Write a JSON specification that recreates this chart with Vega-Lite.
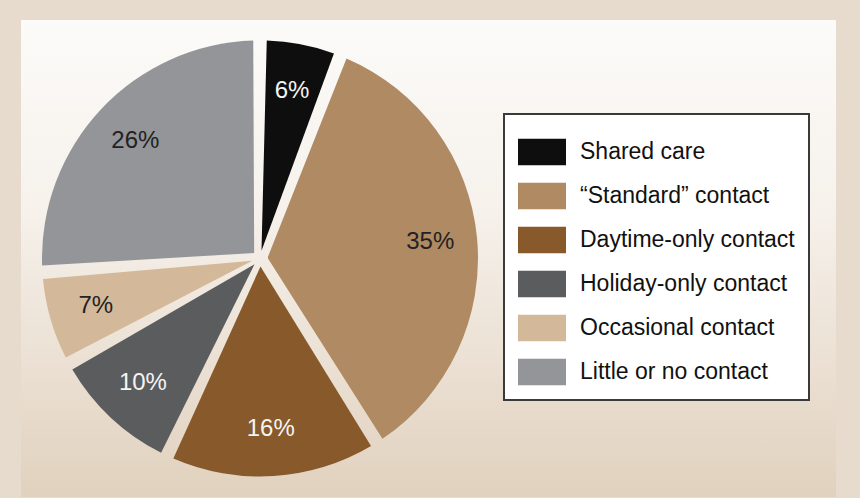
{
  "$schema": "https://vega.github.io/schema/vega-lite/v6.json",
  "width": 860,
  "height": 498,
  "autosize": {"type": "fit", "contains": "padding"},
  "padding": {"left": 21, "top": 20, "right": 24, "bottom": 1},
  "background": "#e6dbcd",
  "config": {
    "view": {"stroke": null},
    "legend": {"strokeWidth": 2}
  },
  "data": {
    "values": [
      {"rank": 1, "category": "Shared care", "share": 0.06},
      {"rank": 2, "category": "“Standard” contact", "share": 0.35},
      {"rank": 3, "category": "Daytime-only contact", "share": 0.16},
      {"rank": 4, "category": "Holiday-only contact", "share": 0.10},
      {"rank": 5, "category": "Occasional contact", "share": 0.07},
      {"rank": 6, "category": "Little or no contact", "share": 0.26}
    ]
  },
  "layer": [
    {
      "data": {"values": [{"panel": "background"}]},
      "mark": {
        "type": "rect",
        "fill": {
          "gradient": "linear",
          "x1": 0, "y1": 0, "x2": 0, "y2": 1,
          "stops": [
            {"offset": 0, "color": "#fcfbf9"},
            {"offset": 0.4, "color": "#f6f1eb"},
            {"offset": 1, "color": "#e1d1be"}
          ]
        }
      },
      "encoding": {
        "x": {"value": 0},
        "x2": {"value": "width"},
        "y": {"value": 0},
        "y2": {"value": "height"}
      }
    },
    {
      "mark": {"type": "arc", "outerRadius": 218, "innerRadius": 8, "padAngle": 0.062, "xOffset": -168.5},
      "encoding": {
        "theta": {"field": "share", "type": "quantitative", "stack": true},
        "order": {"field": "rank", "type": "quantitative"},
        "color": {
          "field": "category",
          "type": "nominal",
          "scale": {
            "domain": ["Shared care", "“Standard” contact", "Daytime-only contact", "Holiday-only contact", "Occasional contact", "Little or no contact"],
            "range": ["#0e0e0e", "#b08a63", "#87592b", "#5a5c5e", "#d3b999", "#939598"]
          },
          "legend": {
            "title": null,
            "orient": "none",
            "legendX": 483,
            "legendY": 94,
            "padding": 14,
            "strokeColor": "#3a3a3a",
            "fillColor": "#ffffff",
            "symbolType": "M-1,-0.55H1V0.55H-1Z",
            "symbolSize": 2304,
            "symbolStrokeWidth": 0,
            "symbolOpacity": 1,
            "labelFont": "Liberation Sans",
            "labelFontSize": 23,
            "labelColor": "#111111",
            "labelOffset": 14,
            "labelLimit": 400,
            "rowPadding": 6
          }
        }
      }
    },
    {
      "mark": {"type": "text", "radius": 171, "xOffset": -168.5, "font": "Liberation Sans", "fontSize": 24, "align": "center", "baseline": "middle"},
      "encoding": {
        "theta": {"field": "share", "type": "quantitative", "stack": true},
        "order": {"field": "rank", "type": "quantitative"},
        "text": {"field": "share", "type": "quantitative", "format": ".0%"},
        "color": {
          "condition": {"test": "indexof(['Shared care', 'Daytime-only contact', 'Holiday-only contact'], datum.category) >= 0", "value": "#f4f4f4"},
          "value": "#222222"
        }
      }
    }
  ]
}
